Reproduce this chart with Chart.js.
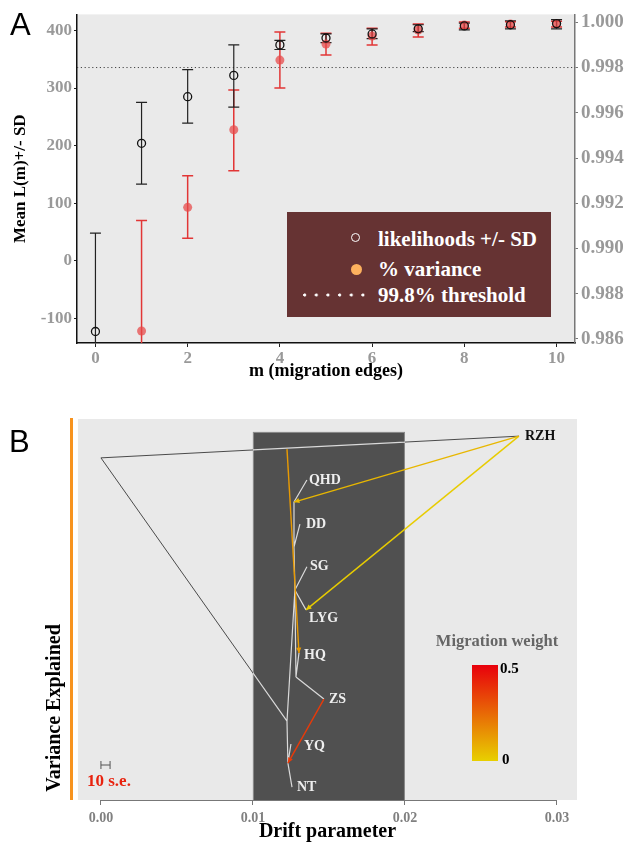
<!DOCTYPE html>
<html>
<head>
<meta charset="utf-8">
<script src="https://cdn.jsdelivr.net/npm/chart.js@4.4.1/dist/chart.umd.min.js"></script>
<style>
  body { margin: 0; background: #fff; }
  #wrap { position: relative; width: 629px; height: 849px; overflow: hidden; font-family: 'Liberation Serif', 'Times New Roman', serif; }
  .letter { position: absolute; font-family: 'Liberation Sans', Arial, sans-serif; font-size: 31px; line-height: 31px; color: #000; }
  #boxA { position: absolute; left: 0; top: 0; }
  #boxB { position: absolute; left: 0; top: 400px; }
  #legA { position: absolute; left: 287px; top: 212px; width: 264px; height: 105px; background: #663333; }
  .lrow { position: absolute; left: 91px; height: 24px; line-height: 24px; font-weight: bold; font-size: 21px; color: #fff; white-space: nowrap; }
  .sym-open { position: absolute; left: 64px; width: 7px; height: 7px; border: 1.5px solid #fff; border-radius: 50%; }
  .sym-fill { position: absolute; left: 63.5px; width: 11px; height: 11px; background: #fdb15e; border-radius: 50%; }
  .sym-dots { position: absolute; left: 16px; width: 62px; height: 4px;
    background: radial-gradient(circle at 1.75px 2px, #fff 1.3px, rgba(255,255,255,0) 1.8px) repeat-x;
    background-size: 11.66px 4px; }
  #orangeBar { position: absolute; left: 70px; top: 418px; width: 2.5px; height: 382px; background: #f7931e; }
  #yTitleB { position: absolute; left: -47px; top: 696px; width: 200px; height: 24px; line-height: 24px; text-align: center;
    font-weight: bold; font-size: 20px; color: #000; transform: rotate(-90deg); white-space: nowrap; }
</style>
</head>
<body>
<div id="wrap">
  <div id="boxA"><canvas id="chartA" width="629" height="385"></canvas></div>
  <div class="letter" style="left:10px;top:9px;">A</div>
  <div id="legA">
    <div class="sym-open" style="top:21px;"></div>
    <div class="lrow" style="top:15px;">likelihoods +/- SD</div>
    <div class="sym-fill" style="top:52px;"></div>
    <div class="lrow" style="top:45px;">% variance</div>
    <div class="sym-dots" style="top:81px;"></div>
    <div class="lrow" style="top:71px;">99.8% threshold</div>
  </div>

  <div id="boxB"><canvas id="chartB" width="629" height="449"></canvas></div>
  <div class="letter" style="left:9px;top:426px;">B</div>
  <div id="orangeBar"></div>
  <div id="yTitleB">Variance Explained</div>
</div>

<script>
const SERIF = "'Liberation Serif', 'Times New Roman', serif";
Chart.defaults.font.family = SERIF;

// ---- Panel A: likelihoods and % variance per number of migration edges ----
const M_EDGES  = [0, 1, 2, 3, 4, 5, 6, 7, 8, 9, 10];
const LIK_MEAN = [-123, 204, 285, 322, 375, 387, 394, 403, 408, 410, 412];
const LIK_LO   = [-294, 133, 239, 267, 367, 379, 386, 398, 401, 403, 403];
const LIK_HI   = [48, 275, 332, 375, 383, 394, 403, 410, 413, 417, 419];
const VAR_MEAN = [null, 0.98635, 0.99182, 0.99525, 0.99833, 0.99904, 0.99939, 0.99966, 0.99988, 0.99992, 0.99994];
const VAR_LO   = [null, 0.98146, 0.99045, 0.99344, 0.99710, 0.99856, 0.99900, 0.99935, 0.99974, 0.99979, 0.99979];
const VAR_HI   = [null, 0.99124, 0.99322, 0.99701, 0.99957, 0.99952, 0.99974, 0.99992, 1.00001, 1.00003, 1.00005];
const THRESHOLD = 0.998;
const X_TICKS_A = [0, 2, 4, 6, 8, 10];
const L_TICKS_A = [-100, 0, 100, 200, 300, 400];
const R_TICKS_A = [0.986, 0.988, 0.990, 0.992, 0.994, 0.996, 0.998, 1.000];

// ---- Panel B: treemix tree (drift on x, leaf order on y) ----
const NODE_NAMES = ['root', 'RZH', 'n1', 'nA', 'NT', 'YQ', 'nC', 'nF', 'HQ', 'ZS', 'LYG', 'SG', 'nD', 'DD', 'nE', 'QHD', 'e1'];
const NODE_DRIFT = [0.00000, 0.02750, 0.01224, 0.01230, 0.01257, 0.01250, 0.01276, 0.01283, 0.01303, 0.01467, 0.01349, 0.01355, 0.01270, 0.01309, 0.01270, 0.01355, 0.01224];
const NODE_Y     = [8.98, 9.55, 2.07, 0.97, 0.34, 1.47, 5.51, 3.23, 3.86, 2.65, 4.99, 6.12, 6.64, 7.24, 7.82, 8.40, 9.21];
const TREE_EDGES = [['root', 'RZH'], ['root', 'n1'], ['n1', 'nA'], ['nA', 'NT'], ['nA', 'YQ'], ['n1', 'nC'], ['nC', 'nF'],
                    ['nF', 'HQ'], ['nF', 'ZS'], ['nC', 'LYG'], ['nC', 'SG'], ['nC', 'nD'], ['nD', 'DD'], ['nD', 'nE'], ['nE', 'QHD']];
const LEAVES     = ['RZH', 'QHD', 'DD', 'SG', 'LYG', 'HQ', 'ZS', 'YQ', 'NT'];
const MIG_EDGES  = [['RZH', 'nE'], ['RZH', 'LYG'], ['e1', 'HQ'], ['ZS', 'nA']];
const MIG_WEIGHT = [0.06, 0.01, 0.13, 0.36];
const MIG_RANGE  = [0, 0.5];
const SE_BAR     = 0.0006;           // width of "10 s.e." bar in drift units
const BAND_X     = [0.01, 0.02];     // shaded drift band
const BAND_TOP   = 9.66;
const X_TICKS_B  = [0.00, 0.01, 0.02, 0.03];

// styling only
const LABEL_NUDGE = { RZH: [6, 0], QHD: [2, 0], DD: [6, 0], SG: [3, 0], LYG: [3, 9], HQ: [5, 2], ZS: [5, 0], YQ: [13, 2], NT: [5, 0] };
const MIG_LOW = [232, 208, 0], MIG_HIGH = [232, 0, 12];

function migColor(w) {
  const t = Math.max(0, Math.min(1, (w - MIG_RANGE[0]) / (MIG_RANGE[1] - MIG_RANGE[0])));
  return 'rgb(' + MIG_LOW.map((c, k) => Math.round(c + (MIG_HIGH[k] - c) * t)).join(',') + ')';
}
function node(name) {
  const i = NODE_NAMES.indexOf(name);
  return { x: NODE_DRIFT[i], y: NODE_Y[i] };
}

// ---- Panel A plugins ----------------------------------------------

const ERROR_SETS = [
  { lo: VAR_LO, hi: VAR_HI, axis: 'y1', color: '#e23636', width: 1.5 },
  { lo: LIK_LO, hi: LIK_HI, axis: 'y',  color: '#222',    width: 1.2 },
];
const CAP = 5.5;

const plotBg = {
  id: 'plotBg',
  beforeDraw(chart, args, opts) {
    const { ctx, chartArea: a } = chart;
    ctx.save();
    ctx.fillStyle = opts.color || '#eaeaea';
    ctx.fillRect(a.left, a.top, a.right - a.left, a.bottom - a.top);
    ctx.restore();
  },
};

const errorBars = {
  id: 'errorBars',
  beforeDatasetsDraw(chart) {
    const { ctx, chartArea: a, scales } = chart;
    ctx.save();
    ctx.beginPath();
    ctx.rect(a.left, a.top, a.right - a.left, a.bottom - a.top);
    ctx.clip();
    // 99.8% threshold
    const ty = scales.y1.getPixelForValue(THRESHOLD);
    ctx.setLineDash([1.2, 2.6]);
    ctx.strokeStyle = '#444';
    ctx.lineWidth = 1;
    ctx.beginPath(); ctx.moveTo(a.left, ty); ctx.lineTo(a.right, ty); ctx.stroke();
    ctx.setLineDash([]);
    ERROR_SETS.forEach(set => {
      const ys = scales[set.axis];
      ctx.strokeStyle = set.color;
      ctx.lineWidth = set.width;
      M_EDGES.forEach((m, i) => {
        if (set.lo[i] == null) return;
        const x = scales.x.getPixelForValue(m);
        const y0 = ys.getPixelForValue(set.lo[i]);
        const y1 = ys.getPixelForValue(set.hi[i]);
        ctx.beginPath();
        ctx.moveTo(x, y0); ctx.lineTo(x, y1);
        ctx.moveTo(x - CAP, y0); ctx.lineTo(x + CAP, y0);
        ctx.moveTo(x - CAP, y1); ctx.lineTo(x + CAP, y1);
        ctx.stroke();
      });
    });
    ctx.restore();
  },
};

const tickFont = size => ({ family: SERIF, size: size, weight: 'bold' });

new Chart(document.getElementById('chartA'), {
  type: 'scatter',
  data: {
    datasets: [
      {
        label: 'likelihoods +/- SD',
        data: M_EDGES.map((m, i) => ({ x: m, y: LIK_MEAN[i] })),
        yAxisID: 'y',
        pointRadius: 4, pointHoverRadius: 4,
        backgroundColor: 'rgba(0,0,0,0)', borderColor: '#111', borderWidth: 1.3,
      },
      {
        label: '% variance',
        data: M_EDGES.map((m, i) => ({ x: m, y: VAR_MEAN[i] })).filter(p => p.y != null),
        yAxisID: 'y1',
        pointRadius: 4.5, pointHoverRadius: 4.5,
        backgroundColor: 'rgba(232,70,70,0.72)', borderWidth: 0,
      },
    ],
  },
  options: {
    responsive: false,
    animation: false,
    events: [],
    layout: { padding: { top: 13, left: 0, right: 0, bottom: 0 } },
    plugins: { legend: { display: false }, tooltip: { enabled: false }, plotBg: { color: '#eaeaea' } },
    scales: {
      x: {
        type: 'linear', min: -0.4, max: 10.4,
        afterBuildTicks: s => { s.ticks = X_TICKS_A.map(v => ({ value: v })); },
        afterFit: s => { s.height = 42; },
        grid: { drawOnChartArea: false, tickLength: 4, color: '#222' },
        border: { display: true, color: '#111', width: 1.5 },
        ticks: { color: '#999', font: tickFont(17), padding: 1, maxRotation: 0 },
        title: { display: true, text: 'm (migration edges)', color: '#000', font: tickFont(18), padding: { top: 0, bottom: 3 } },
      },
      y: {
        type: 'linear', position: 'left', min: -143, max: 428,
        afterBuildTicks: s => { s.ticks = L_TICKS_A.map(v => ({ value: v })); },
        afterFit: s => { s.width = 77; },
        grid: { drawOnChartArea: false, tickLength: 3, color: '#222' },
        border: { display: true, color: '#111', width: 1.5 },
        ticks: { color: '#999', font: tickFont(17), padding: 2 },
        title: { display: true, text: 'Mean L(m)+/- SD', color: '#000', font: tickFont(17), padding: { top: 10, bottom: 0 } },
      },
      y1: {
        type: 'linear', position: 'right', min: 0.98582, max: 1.00035,
        afterBuildTicks: s => { s.ticks = R_TICKS_A.map(v => ({ value: v })); },
        afterFit: s => { s.width = 54; },
        grid: { drawOnChartArea: false, tickLength: 3, color: '#777' },
        border: { display: true, color: '#777', width: 1.5 },
        ticks: { color: '#999', font: tickFont(19), padding: 3, callback: v => v.toFixed(3) },
      },
    },
  },
  plugins: [plotBg, errorBars],
});

// ---- Panel B plugins ----------------------------------------------

function edgePoints(edges) {
  const pts = [];
  edges.forEach(([a, b]) => {
    const p = node(a), q = node(b);
    pts.push(p, q, { x: q.x, y: null });
  });
  return pts;
}

const treePlugin = {
  id: 'treePlugin',
  beforeDatasetsDraw(chart) {
    const { ctx, chartArea: a, scales: { x, y } } = chart;
    const bx0 = x.getPixelForValue(BAND_X[0]), bx1 = x.getPixelForValue(BAND_X[1]);
    const by0 = y.getPixelForValue(BAND_TOP);
    ctx.save();
    ctx.fillStyle = '#505050';
    ctx.fillRect(bx0, by0, bx1 - bx0, a.bottom - by0);
    ctx.strokeStyle = '#8c8c8c';
    ctx.lineWidth = 1;
    ctx.strokeRect(bx0 + 0.5, by0 + 0.5, bx1 - bx0 - 1, a.bottom - by0);
    ctx.restore();
  },
  beforeDatasetDraw(chart, args) {
    const mode = chart.data.datasets[args.index].clipMode;
    if (!mode) return;
    const { ctx, chartArea: a, scales: { x, y } } = chart;
    const bx0 = x.getPixelForValue(BAND_X[0]), bx1 = x.getPixelForValue(BAND_X[1]);
    const by0 = y.getPixelForValue(BAND_TOP);
    ctx.save();
    ctx.beginPath();
    if (mode === 'out') ctx.rect(a.left, a.top, a.right - a.left, a.bottom - a.top);
    ctx.rect(bx0, by0, bx1 - bx0, a.bottom - by0);
    ctx.clip('evenodd');
  },
  afterDatasetDraw(chart, args) {
    if (chart.data.datasets[args.index].clipMode) chart.ctx.restore();
  },
  afterDatasetsDraw(chart) {
    const { ctx, chartArea: a, scales: { x, y } } = chart;
    ctx.save();
    // arrowheads on migration edges
    MIG_EDGES.forEach(([s, t], i) => {
      const p = node(s), q = node(t);
      const x0 = x.getPixelForValue(p.x), y0 = y.getPixelForValue(p.y);
      const x1 = x.getPixelForValue(q.x), y1 = y.getPixelForValue(q.y);
      const ang = Math.atan2(y1 - y0, x1 - x0);
      const L = 6, W = 0.45;
      ctx.fillStyle = migColor(MIG_WEIGHT[i]);
      ctx.beginPath();
      ctx.moveTo(x1, y1);
      ctx.lineTo(x1 - L * Math.cos(ang - W), y1 - L * Math.sin(ang - W));
      ctx.lineTo(x1 - L * Math.cos(ang + W), y1 - L * Math.sin(ang + W));
      ctx.closePath();
      ctx.fill();
    });
    // leaf labels
    ctx.textBaseline = 'middle';
    ctx.textAlign = 'left';
    LEAVES.forEach(name => {
      const p = node(name);
      const n = LABEL_NUDGE[name] || [4, 0];
      const px = x.getPixelForValue(p.x) + n[0];
      const py = y.getPixelForValue(p.y) + n[1];
      const inBand = p.x >= BAND_X[0] && p.x <= BAND_X[1];
      ctx.font = 'bold 14px ' + SERIF;
      ctx.fillStyle = inBand ? '#eeeeee' : '#111';
      ctx.fillText(name, px, py);
    });
    // 10 s.e. scale bar
    const sx0 = x.getPixelForValue(0), sx1 = x.getPixelForValue(SE_BAR);
    const sy = a.bottom - 35;
    ctx.strokeStyle = '#555';
    ctx.lineWidth = 1;
    ctx.beginPath();
    ctx.moveTo(sx0, sy); ctx.lineTo(sx1, sy);
    ctx.moveTo(sx0, sy - 4); ctx.lineTo(sx0, sy + 4);
    ctx.moveTo(sx1, sy - 4); ctx.lineTo(sx1, sy + 4);
    ctx.stroke();
    ctx.font = 'bold 17px ' + SERIF;
    ctx.fillStyle = '#e8220e';
    ctx.fillText('10 s.e.', a.left + 9, a.bottom - 18);
    // migration weight colour bar
    const cbL = 472, cbR = 498, cbT = 265, cbB = 361;
    const g = ctx.createLinearGradient(0, cbB, 0, cbT);
    g.addColorStop(0, migColor(MIG_RANGE[0]));
    g.addColorStop(1, migColor(MIG_RANGE[1]));
    ctx.fillStyle = g;
    ctx.fillRect(cbL, cbT, cbR - cbL, cbB - cbT);
    ctx.font = 'bold 16.5px ' + SERIF;
    ctx.fillStyle = '#666';
    ctx.textAlign = 'center';
    ctx.fillText('Migration weight', 497, 242);
    ctx.textAlign = 'left';
    ctx.font = 'bold 15px ' + SERIF;
    ctx.fillStyle = '#000';
    ctx.fillText(String(MIG_RANGE[1]), cbR + 2, cbT + 4);
    ctx.fillText(String(MIG_RANGE[0]), cbR + 4, cbB - 1);
    ctx.restore();
  },
  afterDraw(chart) {
    const { ctx, chartArea: a, scales: { x } } = chart;
    ctx.save();
    ctx.strokeStyle = '#777';
    ctx.lineWidth = 1.2;
    ctx.beginPath();
    ctx.moveTo(x.getPixelForValue(X_TICKS_B[0]), a.bottom + 0.5);
    ctx.lineTo(x.getPixelForValue(X_TICKS_B[X_TICKS_B.length - 1]), a.bottom + 0.5);
    ctx.stroke();
    ctx.restore();
  },
};

const treeData = edgePoints(TREE_EDGES);
const migSets = MIG_EDGES.map(([s, t], i) => ({
  label: 'migration ' + s + '→' + t,
  data: [node(s), node(t)],
  showLine: true, pointRadius: 0, borderWidth: 1.4,
  borderColor: migColor(MIG_WEIGHT[i]),
}));

new Chart(document.getElementById('chartB'), {
  type: 'scatter',
  data: {
    datasets: migSets.concat([
      { label: 'tree (band)', data: treeData, clipMode: 'in', showLine: true, spanGaps: false,
        pointRadius: 0, borderWidth: 1.2, borderColor: '#dadada' },
      { label: 'tree', data: treeData, clipMode: 'out', showLine: true, spanGaps: false,
        pointRadius: 0, borderWidth: 1, borderColor: '#4a4a4a' },
    ]),
  },
  options: {
    responsive: false,
    animation: false,
    events: [],
    layout: { padding: { top: 19, left: 78, right: 52, bottom: 0 } },
    plugins: { legend: { display: false }, tooltip: { enabled: false }, plotBg: { color: '#e9e9e9' } },
    scales: {
      x: {
        type: 'linear', min: -0.00151, max: 0.03132,
        afterBuildTicks: s => { s.ticks = X_TICKS_B.map(v => ({ value: v })); },
        afterFit: s => { s.height = 49; },
        grid: { drawOnChartArea: false, tickLength: 5, color: '#777' },
        border: { display: false },
        ticks: { color: '#808080', font: tickFont(14), padding: 5, maxRotation: 0, callback: v => v.toFixed(2) },
        title: { display: true, text: 'Drift parameter', color: '#000', font: tickFont(20), padding: { top: 0, bottom: 5 } },
      },
      y: { type: 'linear', min: 0, max: 10, display: false },
    },
  },
  plugins: [plotBg, treePlugin],
});
</script>
</body>
</html>
